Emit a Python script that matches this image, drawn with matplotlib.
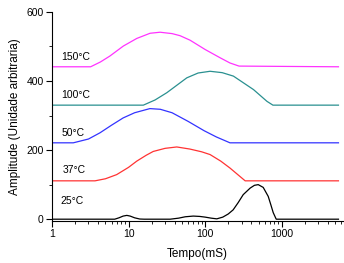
import matplotlib
matplotlib.use("Agg")
import matplotlib.pyplot as plt
from matplotlib.ticker import LogLocator, NullFormatter, MultipleLocator

plt.rcParams['font.family'] = ['Liberation Sans', 'DejaVu Sans']

# tempo (ms) / amplitude
t_25 = [1, 6.6, 7.5, 8.5, 9.5, 10.5, 12, 14, 16, 35, 45, 55, 70, 85, 100, 120, 142,
        170, 200, 232, 270, 314, 387, 440, 493, 573, 666, 720, 774, 847, 5500]
a_25 = [0, 0, 4, 9, 11, 9, 4, 0.5, 0, 0, 3, 7, 9, 8, 6, 3, 1,
        6, 15, 27, 48, 71, 90, 98, 100, 92, 66, 42, 19, 0, 0]

t_37 = [1, 3.65, 5, 7, 10, 12.8, 17, 21, 30, 42.6, 63, 90, 116, 160, 211, 270, 333, 5500]
a_37 = [111, 111, 117, 129, 150, 168, 185, 196, 205, 209, 203, 195, 187, 168, 148, 128, 111, 111]

t_50 = [1, 1.9, 3, 4.24, 6, 8.5, 12, 19, 26, 37, 60, 97, 140, 211, 5500]
a_50 = [221, 221, 232, 250, 272, 293, 308, 320, 318, 308, 283, 256, 238, 221, 221]

t_100 = [1, 15.6, 22.2, 31.6, 57.6, 81, 116, 167, 234, 428, 641, 767, 5500]
a_100 = [330, 330, 345, 366, 409, 423, 428, 424, 414, 375, 341, 330, 330]

t_150 = [1, 3.2, 4.3, 5.7, 8.55, 12.8, 19.1, 25.8, 37, 47, 63.5, 100, 157, 211, 277, 5500]
a_150 = [441, 441, 455, 472, 501, 523, 538, 541, 537, 531, 518, 491, 467, 452, 443, 441]

labels = ['25°C', '37°C', '50°C', '100°C', '150°C']
label_x = [1.3, 1.38, 1.32, 1.32, 1.31]
label_y = [54, 143, 250, 358, 468]

series = [(t_25, a_25, 'black'), (t_37, a_37, '#ff3333'), (t_50, a_50, '#3333ff'),
          (t_100, a_100, '#2a9090'), (t_150, a_150, '#ff33ff')]

fig = plt.figure(figsize=(3.44, 2.63), dpi=100)
ax = fig.add_axes([0.151, 0.16, 0.846, 0.795])

for t, a, c in series:
    ax.plot(t, a, color=c, lw=0.9)

for lab, lx, ly in zip(labels, label_x, label_y):
    ax.text(lx, ly, lab, fontsize=7.5, va='center', ha='left')

ax.set_xscale('log')
ax.set_xlim(1, 6300)
ax.set_ylim(-5, 600)
ax.set_yticks([0, 200, 400, 600])
ax.yaxis.set_minor_locator(MultipleLocator(100))
ax.xaxis.set_minor_locator(LogLocator(base=10, subs=range(2, 10), numticks=20))
ax.xaxis.set_minor_formatter(NullFormatter())
ax.set_xticks([1, 10, 100, 1000])
ax.set_xticklabels(['1', '10', '100', '1000'])

for s in ['top', 'right']:
    ax.spines[s].set_visible(False)
for s in ['left', 'bottom']:
    ax.spines[s].set_linewidth(0.8)

ax.tick_params(which='major', direction='out', length=4, width=0.8, labelsize=7.5, pad=2)
ax.tick_params(which='minor', direction='out', length=2, width=0.6)

ax.set_xlabel('Tempo(mS)', fontsize=8.5, labelpad=6)
ax.set_ylabel('Amplitude (Unidade arbitraria)', fontsize=8.5, labelpad=4)

fig.savefig('out.png', dpi=100)
